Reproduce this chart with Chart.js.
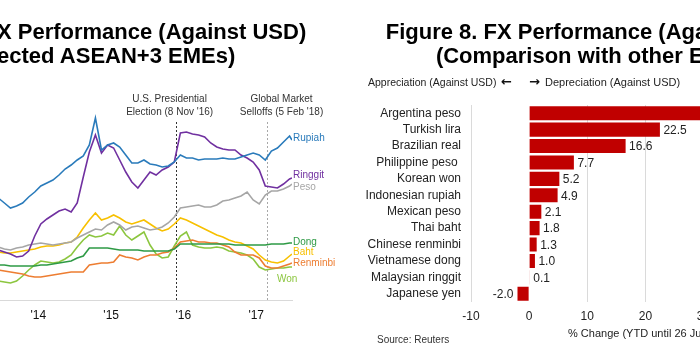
<!DOCTYPE html>
<html><head><meta charset="utf-8">
<script src="https://cdn.jsdelivr.net/npm/chart.js@4.4.0/dist/chart.umd.min.js"></script>
<style>
html,body{margin:0;padding:0;background:#fff;width:700px;height:356px;overflow:hidden;position:relative;font-family:"Liberation Sans",Arial,sans-serif;}
canvas{position:absolute;top:0;}
.t{position:absolute;font-weight:bold;font-size:22px;color:#000;white-space:nowrap;text-align:center;line-height:24px;}
.s{position:absolute;white-space:nowrap;color:#222;}
</style></head>
<body>
<canvas id="left" width="384" height="356" style="left:-32px;width:384px;height:356px;"></canvas>
<canvas id="right" width="370" height="356" style="left:350px;width:370px;height:356px;"></canvas>
<div class="t" style="left:-204px;top:20px;width:600px;">Figure 7. FX Performance (Against USD)<br>(Selected ASEAN+3 EMEs)</div>
<div class="t" style="left:296px;top:20px;width:600px;">Figure 8. FX Performance (Against USD)<br>(Comparison with other EMEs)</div>
<div class="s" style="left:368px;top:75px;font-size:10.5px;line-height:14px;">Appreciation (Against USD)</div>
<div class="s" style="left:501px;top:73px;font-size:13px;line-height:17px;font-family:'DejaVu Sans';font-weight:bold;color:#111;">←</div>
<div class="s" style="left:529px;top:73px;font-size:13px;line-height:17px;font-family:'DejaVu Sans';font-weight:bold;color:#111;">→</div>
<div class="s" style="left:545px;top:75px;font-size:11px;line-height:14px;">Depreciation (Against USD)</div>
<div class="s" style="left:568px;top:326px;font-size:11px;line-height:14px;">% Change (YTD until 26 Jun 2018)</div>
<div class="s" style="left:377px;top:334px;font-size:10px;line-height:12px;color:#333;">Source: Reuters</div>
<script>
// ---------- Left chart data (months since Jan 2014; index level) ----------
const months = [5,6,7,8,9,10,11,12,13,14,15,16,17,18,19,20,21,22,23,24,25,26,27,28,29,30,31,32,33,34,35,36,37,38,39,40,41,42,43,44,45,46,47,48,49,50,51,52,53,53.4];
const rupiah   = [102,97,92,94,97,103,108,114,117,120,125,131,135,140,144,155,182,150,155,157,153,145,137,137,140,136,135,133,134,138,145,142,142,140,141,141,141,142,141,141,143,145,147,145,140,149,152,158,164,160];
const ringgit  = [50,48,46,43,44,49,64,76,81,85,89,91,88,97,123,148,165,147,155,152,140,128,118,112,120,128,125,130,133,138,167,168,166,165,163,157,153,151,150,150,145,142,138,130,114,113,112,116,121,122];
const peso     = [53,51,50,52,53,55,56,57,56,55,56,57,58,62,65,68,71,70,75,78,75,70,73,74,72,70,71,73,77,83,92,93,94,95,93,93,95,99,100,102,104,108,100,96,105,109,109,111,114,116];
const dong     = [35,35,34,34,34,34,34,35,35,36,37,38,39,42,44,52,52,52,52,51,50,50,50,50,49,49,49,49,49,51,56,56,56,56,56,56,56,56,56,55,55,55,55,55,55,56,56,56,57,57];
const baht     = [48,47,47,48,49,50,51,53,54,54,55,57,58,63,72,80,87,80,82,85,82,78,76,78,80,76,72,69,71,76,82,80,77,74,71,68,65,63,60,58,57,54,51,45,40,38,37,39,44,46];
const renminbi = [30,29,28,27,26,24,23,23,24,25,26,27,28,28,28,35,36,37,37,38,45,43,42,40,43,45,45,47,48,52,58,59,60,58,58,57,57,55,53,48,45,45,45,42,34,32,32,34,36,37];
const won      = [19,18,17,19,24,30,35,39,38,37,38,41,45,53,60,65,63,64,67,65,74,65,60,64,68,55,46,42,43,54,64,68,55,53,52,52,53,52,49,48,47,45,41,33,30,31,32,32,33,33];
const seriesNames = ['Rupiah','Ringgit','Peso','Dong','Baht','Renminbi','Won'];
const tickMonths = [11.6, 23.6, 35.5, 47.5];
const tickLabels = ["'14", "'15", "'16", "'17"];
const eventMonths = [34.3, 49.2];
const eventLabels = [['U.S. Presidential', "Election (8 Nov '16)"], ['Global Market', "Selloffs (5 Feb '18)"]];

// ---------- Right chart data ----------
const currencies = ['Argentina peso','Turkish lira','Brazilian real','Philippine peso ','Korean won','Indonesian rupiah','Mexican peso','Thai baht','Chinese renminbi','Vietnamese dong','Malaysian ringgit','Japanese yen'];
const ytdChange = [53.2, 22.5, 16.6, 7.7, 5.2, 4.9, 2.1, 1.8, 1.3, 1.0, 0.1, -2.0];

// ---------- styles ----------
const FONT = '"Liberation Sans", Arial, sans-serif';
Chart.defaults.font.family = FONT;
const seriesColors = ['#2a7bbb','#7030a0','#a6a6a6','#2e9a45','#f7c000','#ed7d31','#8cc63f'];
const labelOffsets = [[1,-2],[1,-3],[1,3],[1,-1],[1,-2],[1,0],[-15,12]];
const eventStyles = [{color:'#333', dx:-6.5},{color:'#a8a8a8', dx:15}];
const allSeries = [rupiah, ringgit, peso, dong, baht, renminbi, won];

const leftDeco = {
  id:'leftDeco',
  beforeDatasetsDraw(chart){
    const {ctx, chartArea, scales:{x}} = chart;
    ctx.save();
    eventMonths.forEach((m,i)=>{
      const px = Math.round(x.getPixelForValue(m)) + 0.5;
      ctx.strokeStyle = eventStyles[i].color;
      ctx.lineWidth = 1;
      ctx.setLineDash([2,2]);
      ctx.beginPath(); ctx.moveTo(px, chartArea.top + 32); ctx.lineTo(px, chartArea.bottom); ctx.stroke();
    });
    ctx.restore();
  },
  afterDatasetsDraw(chart){
    const {ctx, chartArea, scales:{x,y}} = chart;
    ctx.save();
    ctx.font = '10px ' + FONT;
    ctx.textBaseline = 'middle';
    ctx.fillStyle = '#333';
    ctx.textAlign = 'center';
    eventMonths.forEach((m,i)=>{
      const px = x.getPixelForValue(m) + eventStyles[i].dx;
      ctx.fillText(eventLabels[i][0], px, chartArea.top + 9);
      ctx.fillText(eventLabels[i][1], px, chartArea.top + 22);
    });
    ctx.textAlign = 'left';
    allSeries.forEach((s,i)=>{
      ctx.fillStyle = seriesColors[i];
      const yy = y.getPixelForValue(s[s.length-1]) + labelOffsets[i][1];
      ctx.fillText(seriesNames[i], chartArea.right + labelOffsets[i][0], yy);
    });
    ctx.restore();
  }
};

new Chart(document.getElementById('left'), {
  type:'line',
  data:{
    datasets: allSeries.map((s,i)=>({
      label: seriesNames[i],
      data: s.map((v,j)=>({x:months[j], y:v})),
      borderColor: seriesColors[i],
      borderWidth: 1.6,
      pointRadius: 0,
      tension: 0,
      fill: false
    }))
  },
  options:{
    responsive:false, animation:false,
    layout:{padding:{top:90, right:60, left:0, bottom:0}},
    plugins:{legend:{display:false}, tooltip:{enabled:false}},
    scales:{
      x:{type:'linear', min:0, max:53.4,
        afterBuildTicks(s){ s.ticks = tickMonths.map(v=>({value:v})); },
        afterFit(s){ s.height = 56; },
        ticks:{autoSkip:false, maxRotation:0, color:'#111', font:{size:12}, padding:8,
          callback:(v,i)=>tickLabels[i]},
        grid:{display:false, drawTicks:false},
        border:{display:true, color:'#d9d9d9', width:1}
      },
      y:{display:false, min:0, max:210}
    }
  },
  plugins:[leftDeco]
});

const valueLabels = {
  id:'valueLabels',
  afterDatasetsDraw(chart){
    const {ctx} = chart;
    const meta = chart.getDatasetMeta(0);
    ctx.save();
    ctx.font = '12px ' + FONT;
    ctx.fillStyle = '#222';
    ctx.textBaseline = 'middle';
    meta.data.forEach((bar,i)=>{
      const v = ytdChange[i];
      const txt = v.toFixed(1);
      if (v >= 0){ ctx.textAlign='left'; ctx.fillText(txt, bar.x + 3.5, bar.y + 1); }
      else { ctx.textAlign='right'; ctx.fillText(txt, bar.x - 4, bar.y + 1); }
    });
    ctx.restore();
  }
};

new Chart(document.getElementById('right'), {
  type:'bar',
  data:{labels:currencies, datasets:[{data:ytdChange, backgroundColor:'#c00000', borderWidth:0, categoryPercentage:1, barPercentage:0.86}]},
  options:{
    indexAxis:'y', responsive:false, animation:false,
    layout:{padding:{top:105, right:16.5, left:0, bottom:0}},
    plugins:{legend:{display:false}, tooltip:{enabled:false}},
    scales:{
      x:{min:-10, max:30,
        ticks:{stepSize:10, color:'#222', font:{size:12}, padding:7},
        grid:{drawTicks:false, lineWidth:1, color:(c)=> (c.tick && c.tick.value===0) ? 'rgba(0,0,0,0)' : '#dadada'},
        border:{display:false},
        afterFit(s){ s.height = 54; }
      },
      y:{
        ticks:{color:'#222', font:{size:12}, padding:10, autoSkip:false},
        grid:{display:false, drawTicks:false},
        border:{display:false},
        afterFit(s){ s.width = 121; }
      }
    }
  },
  plugins:[valueLabels]
});
</script>
</body></html>
